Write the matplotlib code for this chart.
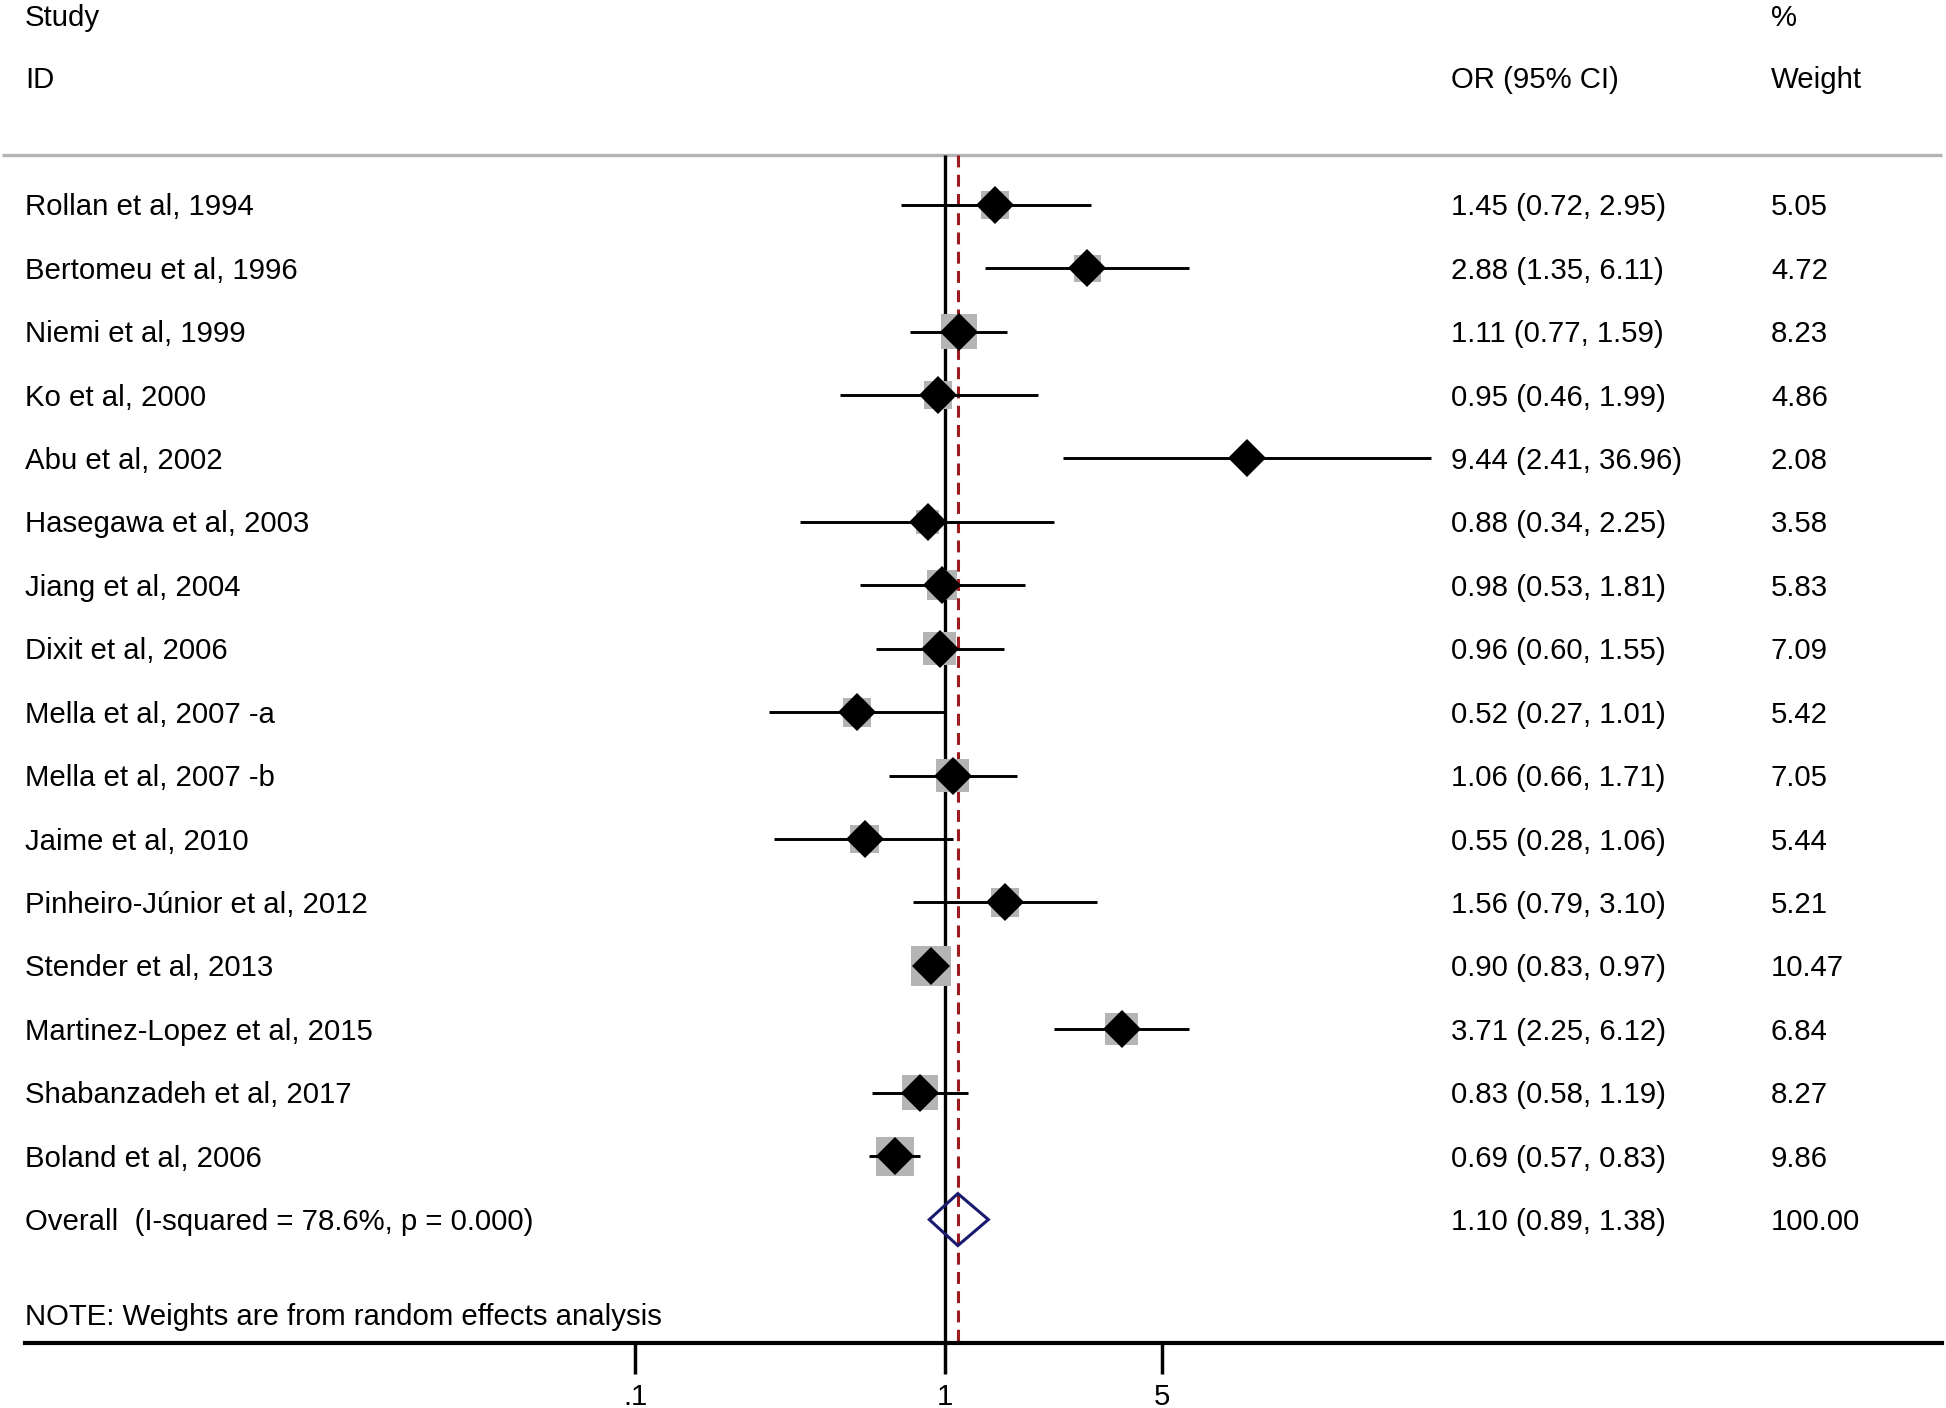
import numpy as np
import matplotlib
matplotlib.use("Agg")
import matplotlib.pyplot as plt
from matplotlib.patches import Polygon

plt.rcParams['font.family'] = ['Liberation Sans', 'DejaVu Sans']

studies = ["Rollan et al, 1994", "Bertomeu et al, 1996", "Niemi et al, 1999",
           "Ko et al, 2000", "Abu et al, 2002", "Hasegawa et al, 2003",
           "Jiang et al, 2004", "Dixit et al, 2006", "Mella et al, 2007 -a",
           "Mella et al, 2007 -b", "Jaime et al, 2010", "Pinheiro-Júnior et al, 2012",
           "Stender et al, 2013", "Martinez-Lopez et al, 2015",
           "Shabanzadeh et al, 2017", "Boland et al, 2006"]
or_est = [1.45, 2.88, 1.11, 0.95, 9.44, 0.88, 0.98, 0.96, 0.52, 1.06, 0.55, 1.56, 0.90, 3.71, 0.83, 0.69]
ci_low = [0.72, 1.35, 0.77, 0.46, 2.41, 0.34, 0.53, 0.60, 0.27, 0.66, 0.28, 0.79, 0.83, 2.25, 0.58, 0.57]
ci_high = [2.95, 6.11, 1.59, 1.99, 36.96, 2.25, 1.81, 1.55, 1.01, 1.71, 1.06, 3.10, 0.97, 6.12, 1.19, 0.83]
weights = [5.05, 4.72, 8.23, 4.86, 2.08, 3.58, 5.83, 7.09, 5.42, 7.05, 5.44, 5.21, 10.47, 6.84, 8.27, 9.86]

overall_label = "Overall  (I-squared = 78.6%, p = 0.000)"
overall_est, overall_low, overall_high, overall_weight = 1.10, 0.89, 1.38, 100.00

xticks = [0.1, 1, 5]
xticklabels = [".1", "1", "5"]

W, H = 1946, 1408
fig = plt.figure(figsize=(W / 100, H / 100), dpi=100)

axis_line_px = 1343.0
row0_px, row_step = 204.7, 63.43
x0_px, dec_px = 945.0, 310.0

def row_of(py):
    return (py - row0_px) / row_step

def xval(px):
    return 10 ** ((px - x0_px) / dec_px)

b = (H - axis_line_px) / H
ax = fig.add_axes([0, b, 1, 1 - b])
ax.set_xscale('log')
ax.set_xlim(xval(0), xval(W))
ax.set_ylim(row_of(axis_line_px), row_of(0))

for s in ['top', 'right', 'left']:
    ax.spines[s].set_visible(False)
ax.spines['bottom'].set_linewidth(3.0)
ax.spines['bottom'].set_bounds(xval(25), xval(1942))
ax.set_yticks([])
ax.xaxis.set_minor_locator(matplotlib.ticker.NullLocator())
ax.set_xticks(xticks)
ax.set_xticklabels(xticklabels)

fs = 21.2
ax.tick_params(axis='x', direction='out', length=22, width=2.5, pad=7, labelsize=fs)

gray_row = row_of(155)
bottom_row = row_of(axis_line_px)
toff = 0.04  # small text baseline offset (rows)

# header gray line
ax.plot([xval(2), xval(1942)], [gray_row, gray_row], color='#b4b4b4', lw=2.4,
        solid_capstyle='butt', clip_on=False)
# reference line at 1
ax.plot([1, 1], [gray_row, bottom_row], color='black', lw=2.4, solid_capstyle='butt', zorder=2)
# overall dashed line
ax.plot([overall_est, overall_est], [gray_row, bottom_row], color='#9b1b1f', lw=2.2,
        linestyle=(0, (3.9, 2.4)), zorder=2)

rows = np.arange(len(studies))
tr = ax.get_yaxis_transform()

for i in rows:
    ax.plot([ci_low[i], ci_high[i]], [i, i], color='black', lw=2.1, solid_capstyle='butt', zorder=3)

ax.scatter(or_est, rows, s=np.array(weights) * 79.2, marker='s', color='#b4b4b4',
           linewidths=0, zorder=2.5)
ax.plot(or_est, rows, linestyle='none', marker='D', ms=19.3, mew=0, color='black', zorder=4)

# overall diamond
yo = len(studies)
h = 0.41
diamond = Polygon([[overall_low, yo], [overall_est, yo - h], [overall_high, yo], [overall_est, yo + h]],
                  closed=True, fill=False, edgecolor='#1a1a70', lw=2.2, zorder=5)
ax.add_patch(diamond)

xs_name, xs_or, xs_w = 25 / W, 1451 / W, 1771 / W

for i in rows:
    ax.text(xs_name, i + toff, studies[i], transform=tr, fontsize=fs, va='center', ha='left')
    ax.text(xs_or, i + toff, f"{or_est[i]:.2f} ({ci_low[i]:.2f}, {ci_high[i]:.2f})", transform=tr,
            fontsize=fs, va='center', ha='left')
    ax.text(xs_w, i + toff, f"{weights[i]:.2f}", transform=tr, fontsize=fs, va='center', ha='left')

ax.text(xs_name, yo + toff, overall_label, transform=tr, fontsize=fs, va='center', ha='left')
ax.text(xs_or, yo + toff, f"{overall_est:.2f} ({overall_low:.2f}, {overall_high:.2f})", transform=tr,
        fontsize=fs, va='center', ha='left')
ax.text(xs_w, yo + toff, f"{overall_weight:.2f}", transform=tr, fontsize=fs, va='center', ha='left')

ax.text(xs_name, row_of(15) + toff, "Study", transform=tr, fontsize=fs, va='center', ha='left')
ax.text(xs_name, row_of(77) + toff, "ID", transform=tr, fontsize=fs, va='center', ha='left')
ax.text(xs_or, row_of(77) + toff, "OR (95% CI)", transform=tr, fontsize=fs, va='center', ha='left')
ax.text(xs_w, row_of(15) + toff, "%", transform=tr, fontsize=fs, va='center', ha='left')
ax.text(xs_w, row_of(77) + toff, "Weight", transform=tr, fontsize=fs, va='center', ha='left')
ax.text(xs_name, row_of(1314) + toff, "NOTE: Weights are from random effects analysis", transform=tr,
        fontsize=fs, va='center', ha='left')

fig.savefig("out.png", dpi=100, facecolor='white')
